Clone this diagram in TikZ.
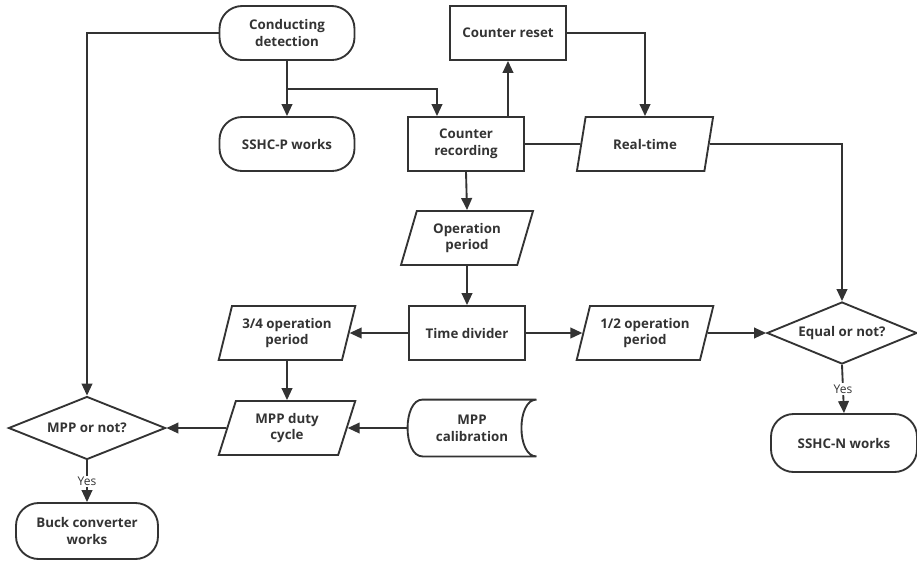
\documentclass[tikz,border=0pt]{standalone}
\usepackage{fontspec}
\setmainfont{Open Sans}
\usetikzlibrary{arrows.meta,positioning,shapes.geometric}
\definecolor{ink}{HTML}{333333}
\tikzset{
  box/.style={draw=ink,line width=1.4pt,text=ink,font=\fontsize{10}{12.5}\selectfont\bfseries,align=center,inner sep=2pt},
  term/.style={box,rectangle,rounded corners=17pt,minimum width=101.25pt,minimum height=40.5pt},
  proc/.style={box,rectangle,minimum width=87pt,minimum height=40.5pt},
  iobox/.style={box,trapezium,trapezium left angle=72,trapezium right angle=108,trapezium stretches=true,minimum width=102.75pt,minimum height=40.5pt},
  decide/.style={box,diamond,aspect=2.4,inner sep=0pt,minimum width=114pt,minimum height=47pt},
  flow/.style={draw=ink,line width=1.4pt,-{Triangle[length=9pt,width=8pt]}},
  link/.style={draw=ink,line width=1.4pt},
  yes/.style={fill=white,text=ink,font=\fontsize{9}{10}\selectfont,inner sep=1pt}
}
\begin{document}
\begin{tikzpicture}[x=0.75pt,y=-0.75pt]
\useasboundingbox (0,0) rectangle (917,562);
% \draw[help lines,step=50] (0,0) grid (917,562);
\node (cond) [term] at (287,33) {Conducting\\detection};
\node (sshcp) [term] at (287,144) {SSHC-P works};
\node (reset) [proc] at (508,33) {Counter reset};
\node (rec) [proc] at (466,144) {Counter\\recording};
\node (realt) [iobox] at (645,144) {Real-time};
\node (opper) [iobox,minimum width=99.75pt] at (467,238) {Operation\\period};
\node (divider) [proc] at (467,333) {Time divider};
\node (threeq) [iobox] at (287,333) {3/4 operation\\period};
\node (half) [iobox] at (645,333) {1/2 operation\\period};
\node (equal) [decide,minimum width=112.5pt,minimum height=46.5pt] at (842,333) {Equal or not?};
\node (sshcn) [term,minimum width=109.5pt,minimum height=43.5pt] at (844,443) {SSHC-N works};
\node (mppnot) [decide,minimum width=117.75pt,minimum height=47.25pt] at (87,428) {MPP or not?};
\node (duty) [iobox] at (287,428) {MPP duty\\cycle};
\node (calib) [box,draw=none,minimum width=95.25pt,minimum height=41.25pt] at (472,428) {MPP\\calibration};
\node (buck) [term,minimum width=106.5pt,minimum height=42pt] at (87,531) {Buck converter\\works};
% stored data outline
\draw[link] ([xshift=11.25pt]calib.north west) -- (calib.north east)
  .. controls ([xshift=-15pt]calib.north east) and ([xshift=-15pt]calib.south east) .. (calib.south east)
  -- ([xshift=11.25pt]calib.south west)
  .. controls ([xshift=-3.75pt]calib.south west) and ([xshift=-3.75pt]calib.north west) .. ([xshift=11.25pt]calib.north west) -- cycle;
%
\coordinate (split) at (287,89);
\draw[flow] (cond.south) -- (sshcp.north);
\draw[flow] (split) -| (437,0 |- rec.north);
\draw[flow] (reset.south |- rec.north) -- (reset.south);
\draw[flow] (reset.east) -| (realt.north);
\draw[link] (rec.east) -- (realt.west);
\draw[flow] (realt.east) -| (equal.north);
\draw[flow] (rec.south) -- (opper.north);
\draw[flow] (opper.south) -- (divider.north);
\draw[flow] (divider.west) -- (threeq.east);
\draw[flow] (divider.east) -- (half.west);
\draw[flow] (half.east) -- (equal.west);
\draw[flow] (equal.south) -- node[yes] {Yes} (sshcn.north);
\draw[flow] (threeq.south) -- (duty.north);
\draw[flow] (calib.west) -- (duty.east);
\draw[flow] (duty.west) -- (mppnot.east);
\draw[flow] (cond.west) -| (mppnot.north);
\draw[flow] (mppnot.south) -- node[yes] {Yes} (buck.north);
\end{tikzpicture}
\end{document}
